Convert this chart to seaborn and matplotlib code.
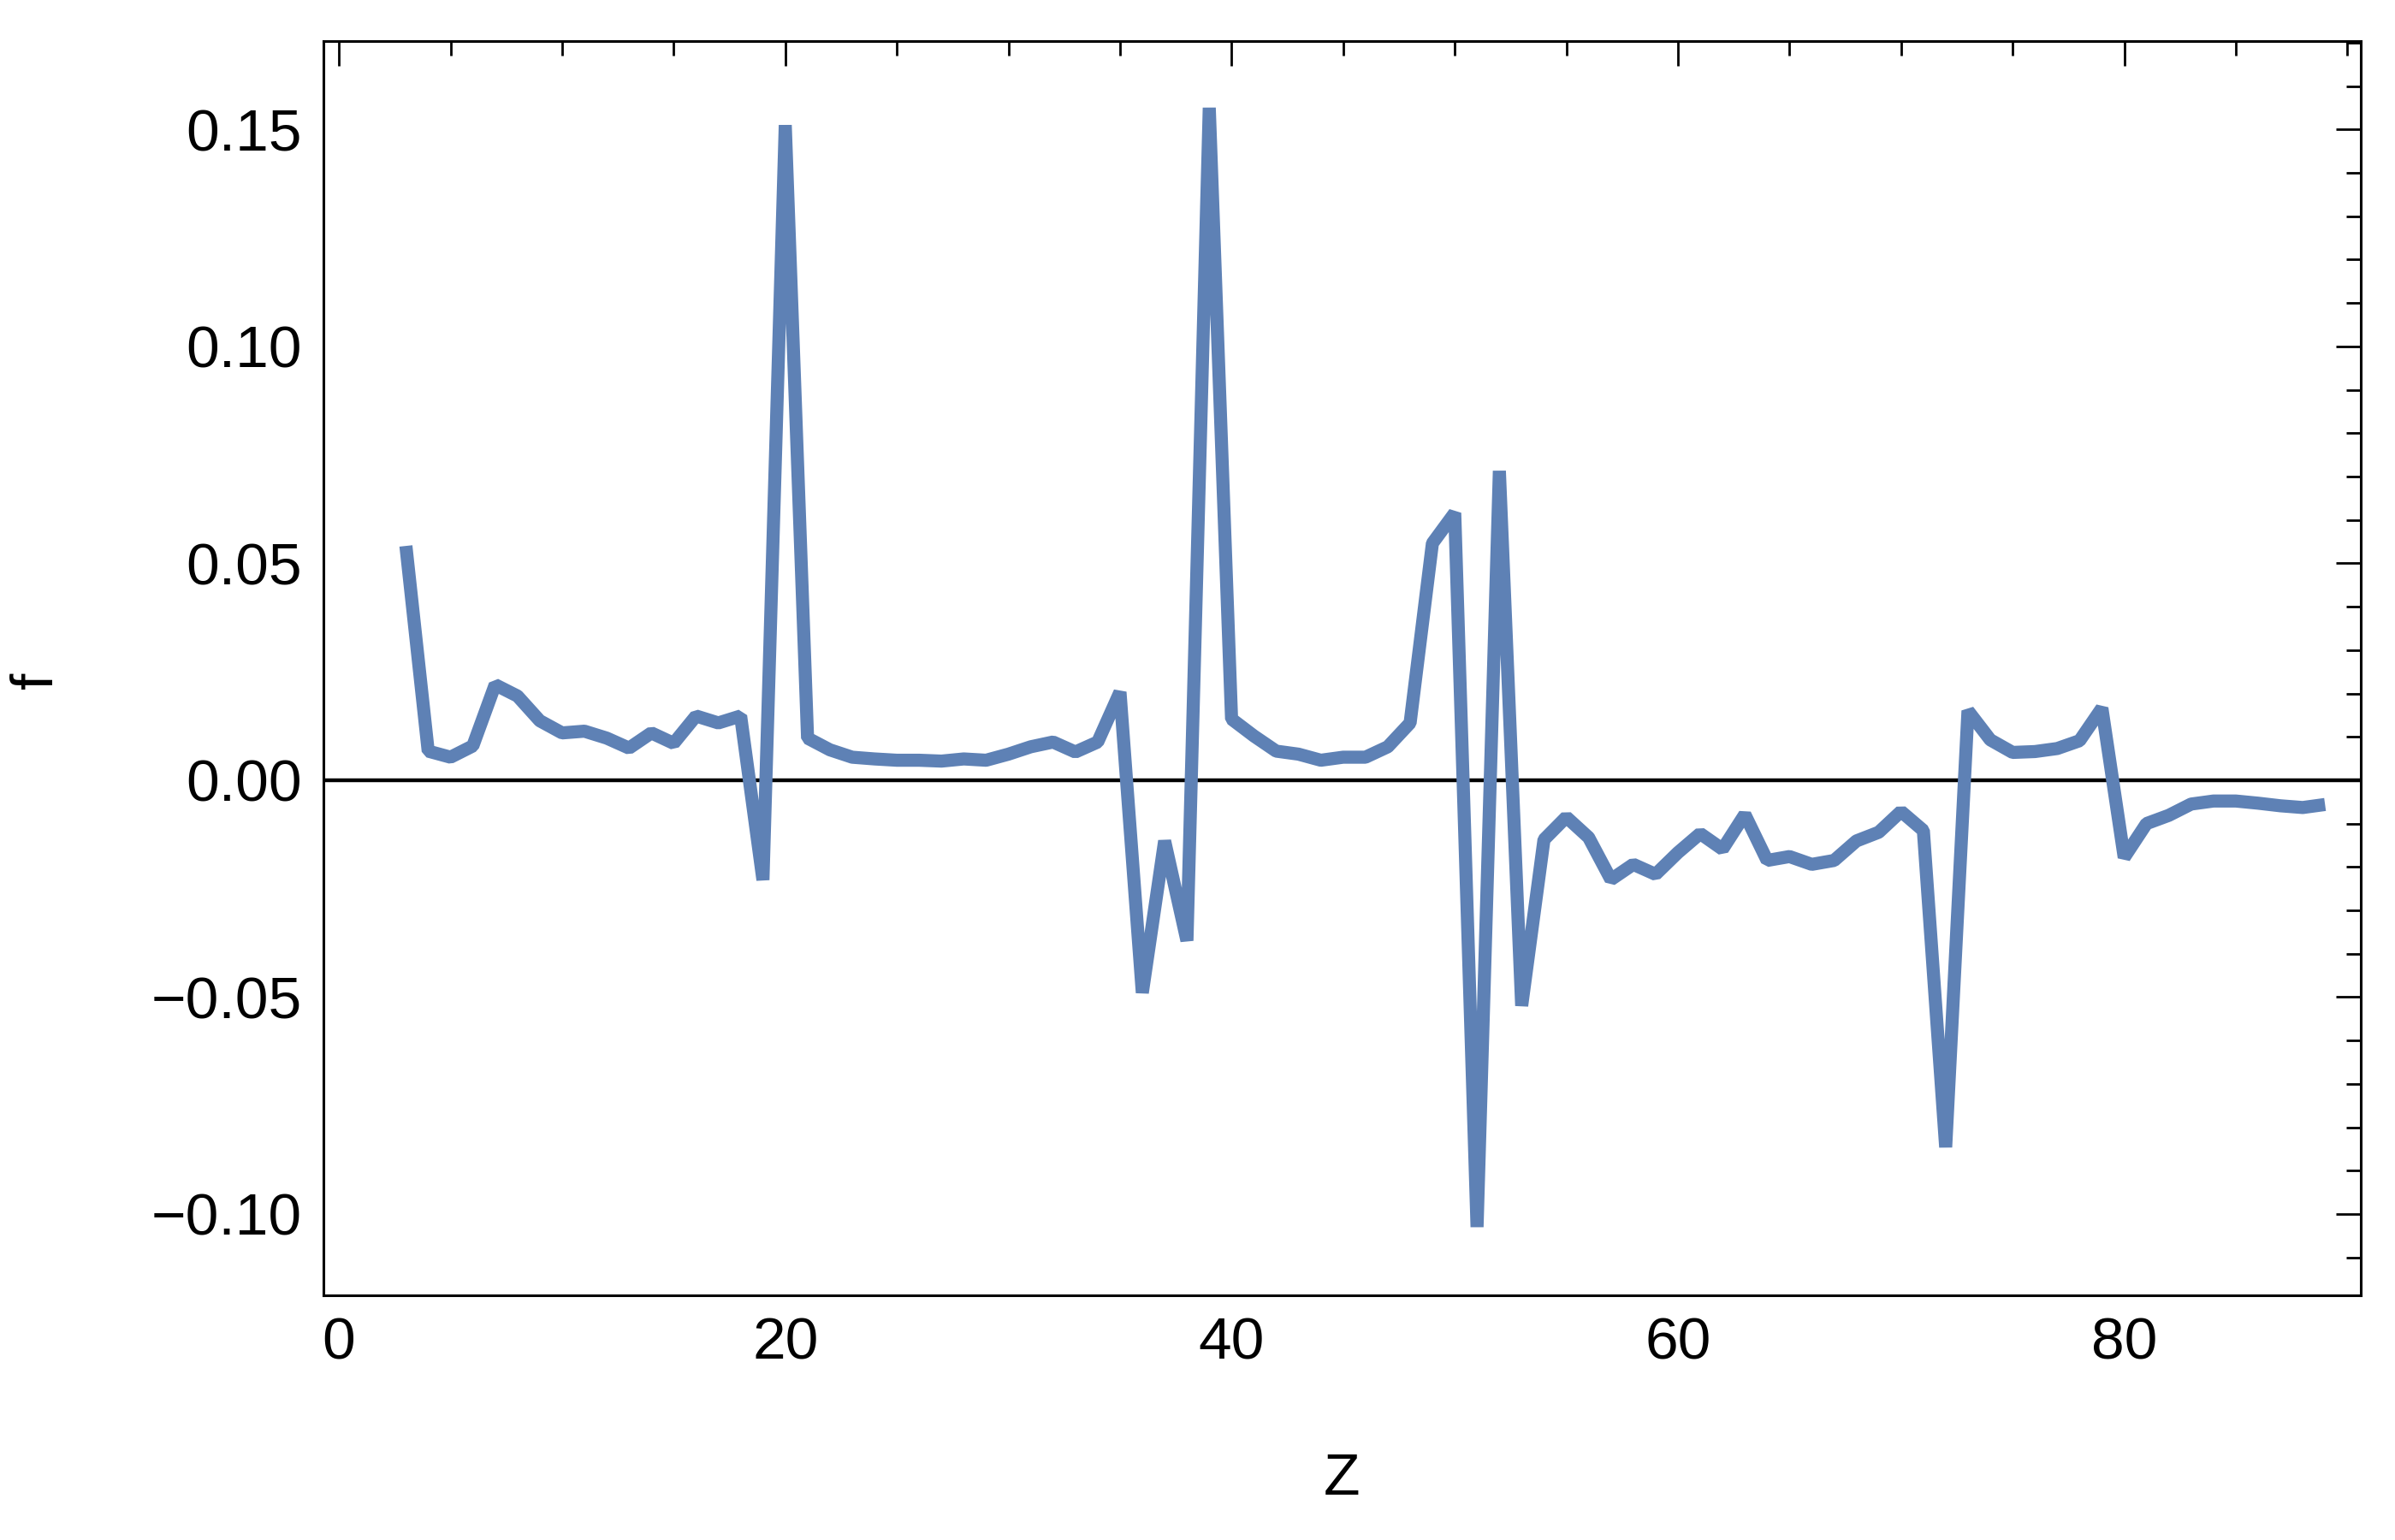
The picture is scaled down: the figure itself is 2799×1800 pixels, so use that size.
import pandas as pd
import numpy as np

import matplotlib
matplotlib.use("Agg")
import matplotlib.pyplot as plt
from matplotlib.ticker import MultipleLocator
import seaborn as sns


# =========================
# DATA
# =========================
z_values = list(range(3, 90))

f_values = [
    0.054, 0.0067, 0.0053, 0.0079, 0.022, 0.0194, 0.0137, 0.0109, 0.0113, 0.0097,   # 3-12
    0.0074, 0.0109, 0.0085, 0.0148, 0.0132, 0.0148, -0.023, 0.151, 0.0097, 0.0070,  # 13-22
    0.0053, 0.0049, 0.0046, 0.0046, 0.0044, 0.0049, 0.0046, 0.0060, 0.0077, 0.0088,  # 23-32
    0.0065, 0.0088, 0.0203, -0.049, -0.014, -0.037, 0.155, 0.0141, 0.0102, 0.0067,  # 33-42
    0.0060, 0.0046, 0.0053, 0.0053, 0.0077, 0.0132, 0.0546, 0.0616, -0.103, 0.0713,  # 43-52
    -0.052, -0.0137, -0.0085, -0.0132, -0.0229, -0.0194, -0.0217, -0.0167, -0.0123, -0.0159,  # 53-62
    -0.0079, -0.0185, -0.0176, -0.0194, -0.0185, -0.0140, -0.0120, -0.0072, -0.0116, -0.0846,  # 63-72
    0.0160, 0.0093, 0.0064, 0.0066, 0.0073, 0.0091, 0.0166, -0.0178, -0.0100, -0.0081,  # 73-82
    -0.0055, -0.0048, -0.0048, -0.0053, -0.0059, -0.0063, -0.0056,  # 83-89
]

x_label = "Z"
y_label = "f"

df = pd.DataFrame({"Z": z_values, "f": f_values})


# =========================
# STYLE
# =========================
sns.set_style("white")
plt.rcParams["font.family"] = ["Liberation Sans", "DejaVu Sans"]
plt.rcParams["text.color"] = "black"
plt.rcParams["axes.labelcolor"] = "black"
plt.rcParams["xtick.color"] = "black"
plt.rcParams["ytick.color"] = "black"

line_color = "#5E81B5"


# =========================
# PLOT
# =========================
fig = plt.figure(figsize=(13.995, 9), dpi=200)
ax = fig.add_axes([0.135, 0.159, 0.8507, 0.8144])

ax.axhline(0, color="black", linewidth=1.6, zorder=1)
sns.lineplot(data=df, x="Z", y="f", ax=ax, color=line_color,
             linewidth=5.5, zorder=2,
             solid_joinstyle="bevel", solid_capstyle="butt")

ax.set_xlim(-0.7, 90.6)
ax.set_ylim(-0.1187, 0.1704)

ax.xaxis.set_major_locator(MultipleLocator(20))
ax.xaxis.set_minor_locator(MultipleLocator(5))
ax.yaxis.set_major_locator(MultipleLocator(0.05))
ax.yaxis.set_minor_locator(MultipleLocator(0.01))
ax.yaxis.set_major_formatter(lambda v, pos: f"{v:.2f}".replace("-", "\u2212"))

ax.tick_params(which="both", direction="in", top=True, right=True,
               labeltop=False, labelright=False, color="black",
               labelcolor="black", width=1.0)
ax.tick_params(which="major", length=10.3, labelsize=25, pad=9)
ax.tick_params(which="minor", length=6)

for sp in ax.spines.values():
    sp.set_visible(True)
    sp.set_color("black")
    sp.set_linewidth(1.1)

ax.set_xlabel(x_label, fontsize=25, color="black")
ax.set_ylabel(y_label, fontsize=25, color="black")
ax.xaxis.set_label_coords(0.5, -0.125)
ax.yaxis.set_label_coords(-0.127, 0.49)

fig.savefig("out.png", dpi=200, facecolor="white")
